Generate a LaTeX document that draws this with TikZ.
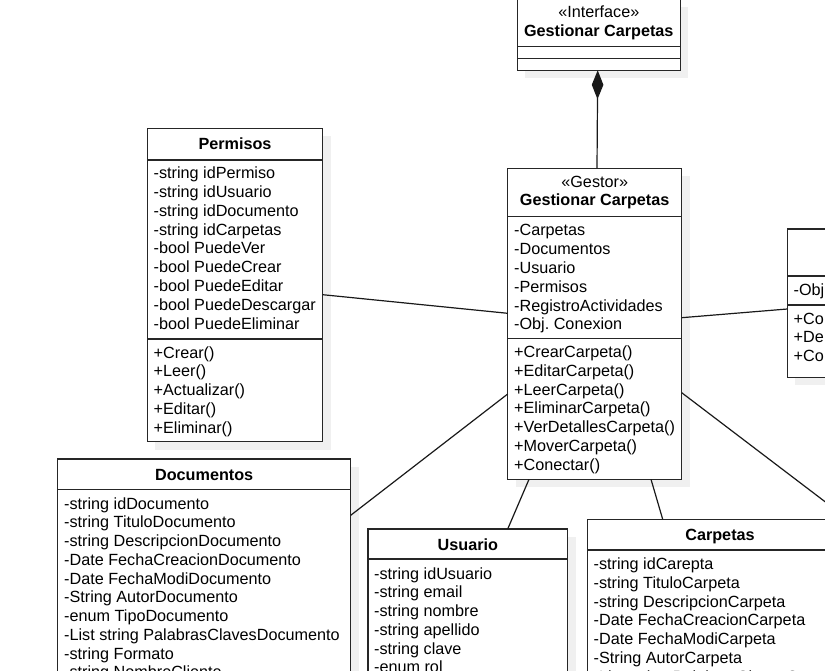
\documentclass[tikz,border=0pt]{standalone}
\usepackage{fontspec}
\setmainfont{Liberation Sans}
\usetikzlibrary{arrows.meta,calc,shadows}
\frenchspacing
\begin{document}
\begin{tikzpicture}[x=1pt,y=-1pt,
  cls/.style={draw=black!85, line width=1.2pt, fill=white, anchor=north west, inner sep=0pt, outer sep=0pt,
    drop shadow={shadow xshift=8pt, shadow yshift=-8pt, fill=black!6, opacity=1}},
  sepline/.style={draw=black!85, line width=1.2pt},
  row/.style={anchor=base west, inner sep=0pt, font=\fontsize{16.2}{18.75}\selectfont\frenchspacing},
  ttl/.style={anchor=base, inner sep=0pt, font=\fontsize{16.2}{18.75}\selectfont\bfseries},
  stereo/.style={anchor=base, inner sep=0pt, font=\fontsize{16.2}{18.75}\selectfont},
  link/.style={draw=black!90, line width=1.2pt}]
\useasboundingbox (0,0) rectangle (825,671);
\clip (0,0) rectangle (825,671);

% ---------- boxes ----------
\node[cls, minimum width=163pt, minimum height=71.3pt] (iface) at (517.3,-1) {};
\node[cls, minimum width=175.4pt, minimum height=313.4pt] (perm) at (147.3,128.3) {};
\node[cls, minimum width=174pt, minimum height=311pt] (gest) at (507.7,168.3) {};
\node[cls, minimum width=200pt, minimum height=148.3pt] (rbox) at (787.3,229) {};
\node[cls, minimum width=293pt, minimum height=260pt] (docs) at (57.7,459) {};
\node[cls, minimum width=199.7pt, minimum height=200pt] (usu) at (368,529) {};
\node[cls, minimum width=265.4pt, minimum height=200pt] (carp) at (587.3,519.3) {};

% ---------- separators ----------
\draw[sepline] ($(iface.north west)+(0,47.7)$) -- ($(iface.north east)+(0,47.7)$);
\draw[sepline] ($(iface.north west)+(0,59.7)$) -- ($(iface.north east)+(0,59.7)$);
\draw[sepline] ($(perm.north west)+(0,31.7)$) -- ($(perm.north east)+(0,31.7)$);
\draw[sepline] ($(perm.north west)+(0,210.7)$) -- ($(perm.north east)+(0,210.7)$);
\draw[sepline] ($(gest.north west)+(0,48.2)$) -- ($(gest.north east)+(0,48.2)$);
\draw[sepline] ($(gest.north west)+(0,170.2)$) -- ($(gest.north east)+(0,170.2)$);
\draw[sepline] ($(rbox.north west)+(0,47)$) -- ($(rbox.north east)+(0,47)$);
\draw[sepline] ($(rbox.north west)+(0,76)$) -- ($(rbox.north east)+(0,76)$);
\draw[sepline] ($(docs.north west)+(0,30.3)$) -- ($(docs.north east)+(0,30.3)$);
\draw[sepline] ($(usu.north west)+(0,30)$) -- ($(usu.north east)+(0,30)$);
\draw[sepline] ($(carp.north west)+(0,30.7)$) -- ($(carp.north east)+(0,30.7)$);

% ---------- titles ----------
\node[stereo] (ifaceS) at (598.8,18) {«Interface»};
\node[ttl] (ifaceT) at (598.8,36.5) {Gestionar Carpetas};
\node[ttl] (permT) at (235,150) {Permisos};
\node[stereo] (gestS) at (594.7,187.5) {«Gestor»};
\node[ttl] (gestT) at (594.7,206) {Gestionar Carpetas};
\node[ttl] (docsT) at (204.2,480.3) {Documentos};
\node[ttl] (usuT) at (467.9,550.3) {Usuario};
\node[ttl] (carpT) at (720,540.5) {Carpetas};

% ---------- rows ----------
\foreach \t [count=\i from 0] in {-string idPermiso,-string idUsuario,-string idDocumento,-string idCarpetas,-bool PuedeVer,-bool PuedeCrear,-bool PuedeEditar,-bool PuedeDescargar,-bool PuedeEliminar}
  \node[row] (permA\i) at (153.5,179+\i*18.75) {\t};
\foreach \t [count=\i from 0] in {+Crear(),+Leer(),+Actualizar(),+Editar(),+Eliminar()}
  \node[row] (permM\i) at (153.5,358+\i*18.75) {\t};
\foreach \t [count=\i from 0] in {-Carpetas,-Documentos,-Usuario,-Permisos,-RegistroActividades,-Obj. Conexion}
  \node[row] (gestA\i) at (514,236+\i*18.75) {\t};
\foreach \t [count=\i from 0] in {+CrearCarpeta(),+EditarCarpeta(),+LeerCarpeta(),+EliminarCarpeta(),+VerDetallesCarpeta(),+MoverCarpeta(),+Conectar()}
  \node[row] (gestM\i) at (514,357.5+\i*18.75) {\t};
\node[row] (rboxA0) at (793.5,295) {-Obj};
\foreach \t [count=\i from 0] in {+Co,+De,+Co}
  \node[row] (rboxM\i) at (793.5,324+\i*18.75) {\t};
\foreach \t [count=\i from 0] in {-string idDocumento,-string TituloDocumento,-string DescripcionDocumento,-Date FechaCreacionDocumento,-Date FechaModiDocumento,-String AutorDocumento,-enum TipoDocumento,-List string PalabrasClavesDocumento,-string Formato,-string NombreCliente}
  \node[row] (docsA\i) at (64,509+\i*18.75) {\t};
\foreach \t [count=\i from 0] in {-string idUsuario,-string email,-string nombre,-string apellido,-string clave,-enum rol}
  \node[row] (usuA\i) at (374,579+\i*18.75) {\t};
\foreach \t [count=\i from 0] in {-string idCarepta,-string TituloCarpeta,-string DescripcionCarpeta,-Date FechaCreacionCarpeta,-Date FechaModiCarpeta,-String AutorCarpeta,-List string PalabrasClavesCarpeta}
  \node[row] (carpA\i) at (593.5,569.5+\i*18.75) {\t};

% ---------- connectors ----------
\draw[link, -{Diamond[length=29pt 0,width=11.6pt 0]}] ($(gest.north west)+(89.3,0)$) -- ($(iface.south west)+(80.4,0)$);
\draw[link] ($(perm.north east)+(0,166.4)$) -- ($(gest.north west)+(0,145)$);
\draw[link] ($(docs.north east)+(0,56.3)$) -- ($(gest.north west)+(0,225.7)$);
\draw[link] ($(usu.north west)+(139.7,0)$) -- ($(gest.south west)+(21.3,0)$);
\draw[link] ($(carp.north west)+(75.4,0)$) -- ($(gest.south west)+(143.3,0)$);
\draw[link] ($(gest.north east)+(0,149.4)$) -- ($(rbox.north west)+(0,80)$);
\coordinate (offend) at (880,543.5);
\draw[link] ($(gest.north east)+(0,224.4)$) -- (offend);
\end{tikzpicture}
\end{document}
